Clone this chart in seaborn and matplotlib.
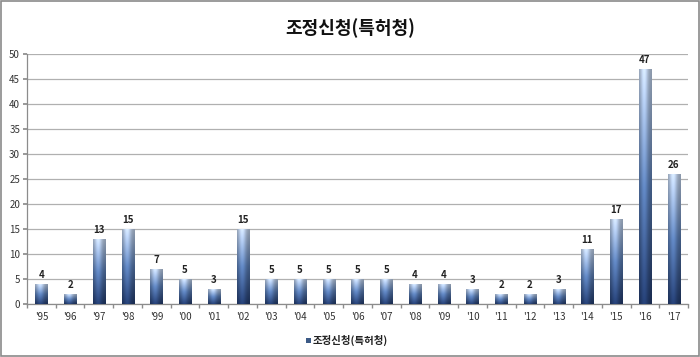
import matplotlib
matplotlib.use("Agg")
import matplotlib.pyplot as plt
import seaborn as sns
import numpy as np
import pandas as pd
from matplotlib.patches import Rectangle

years = ["'95", "'96", "'97", "'98", "'99", "'00", "'01", "'02", "'03", "'04", "'05", "'06",
         "'07", "'08", "'09", "'10", "'11", "'12", "'13", "'14", "'15", "'16", "'17"]
counts = [4, 2, 13, 15, 7, 5, 3, 15, 5, 5, 5, 5, 5, 4, 4, 3, 2, 2, 3, 11, 17, 47, 26]
series_name = "조정신청(특허청)"
title = "조정신청(특허청)"

sns.set_theme(style="white")
plt.rcParams['font.family'] = ['Noto Sans CJK KR', 'DejaVu Sans']

df = pd.DataFrame({"year": years, "count": counts})

fig = plt.figure(figsize=(7, 3.57), dpi=100)
ax = fig.add_axes([27/700, 53/357, 661/700, 250/357])

sns.barplot(data=df, x="year", y="count", ax=ax, width=0.42, color="#4a6690",
            saturation=1, linewidth=0, zorder=3)

# gradient fill (vertical: dark navy -> mid blue -> light blue; horizontal: cylinder shading)
bot_c = np.array([0.14, 0.24, 0.44])
mid_c = np.array([0.36, 0.50, 0.72])
top_c = np.array([0.78, 0.85, 0.95])
nx, ny = 40, 100
xs = np.linspace(0, 1, nx)
hfac = 0.70 + 0.40 * np.exp(-((xs - 0.40) / 0.30) ** 2)
t = np.linspace(0, 1, ny)
r = np.interp(t, [0, 0.5, 1], [bot_c[0], mid_c[0], top_c[0]])
g = np.interp(t, [0, 0.5, 1], [bot_c[1], mid_c[1], top_c[1]])
b = np.interp(t, [0, 0.5, 1], [bot_c[2], mid_c[2], top_c[2]])
base = np.stack([r, g, b], axis=-1)[:, None, :]
img = np.clip(base * hfac[None, :, None], 0, 1)
for p in ax.patches:
    x0, y0 = p.get_x(), p.get_y()
    w, h = p.get_width(), p.get_height()
    p.set_facecolor("none")
    im = ax.imshow(img, extent=[x0, x0 + w, y0, y0 + h], origin="lower",
                   aspect="auto", zorder=3, interpolation="bilinear")
    im.set_clip_path(p)

for i, v in enumerate(counts):
    ax.text(i, v + 0.8, str(v), ha="center", va="bottom", fontsize=7,
            fontweight="bold", color="#222222", zorder=4)

ax.set_xlim(-0.5, len(years) - 0.5)
ax.set_ylim(0, 50)
ax.set_yticks(range(0, 51, 5))
ax.yaxis.grid(True, color="#b0b0b0", linewidth=0.9, zorder=0)
ax.set_axisbelow(True)
ax.set_xlabel("")
ax.set_ylabel("")
for s in ["top", "right"]:
    ax.spines[s].set_visible(False)
for s in ["left", "bottom"]:
    ax.spines[s].set_color("#8c8c8c")
    ax.spines[s].set_linewidth(0.9)

ax.set_xticks(range(len(years)))
ax.set_xticklabels(years)
ax.tick_params(axis="x", length=0, labelsize=7, labelcolor="#333333", pad=6)
ax.set_xticks(np.arange(-0.5, len(years), 1), minor=True)
ax.tick_params(axis="x", which="minor", length=3, color="#8c8c8c", bottom=True)
ax.tick_params(axis="y", length=3, color="#8c8c8c", labelsize=7, labelcolor="#333333",
               left=True, pad=2)

fig.text(0.5, 1 - 28/357, title, ha="center", va="center", fontsize=13,
         fontweight="bold", color="#111111")

# legend
fig.patches.append(Rectangle((306/700, 1 - 343/357), 5/700, 5/357,
                             transform=fig.transFigure, facecolor="#3c5a86",
                             edgecolor="none"))
fig.text(313/700, 1 - 340/357, series_name, ha="left", va="center", fontsize=7.5,
         fontweight="bold", color="#222222")

fig.patches.append(Rectangle((0.002, 0.003), 0.996, 0.994, transform=fig.transFigure,
                             facecolor="none", edgecolor="#8a8a8a", linewidth=1.2))

fig.savefig("out.png", dpi=100)
